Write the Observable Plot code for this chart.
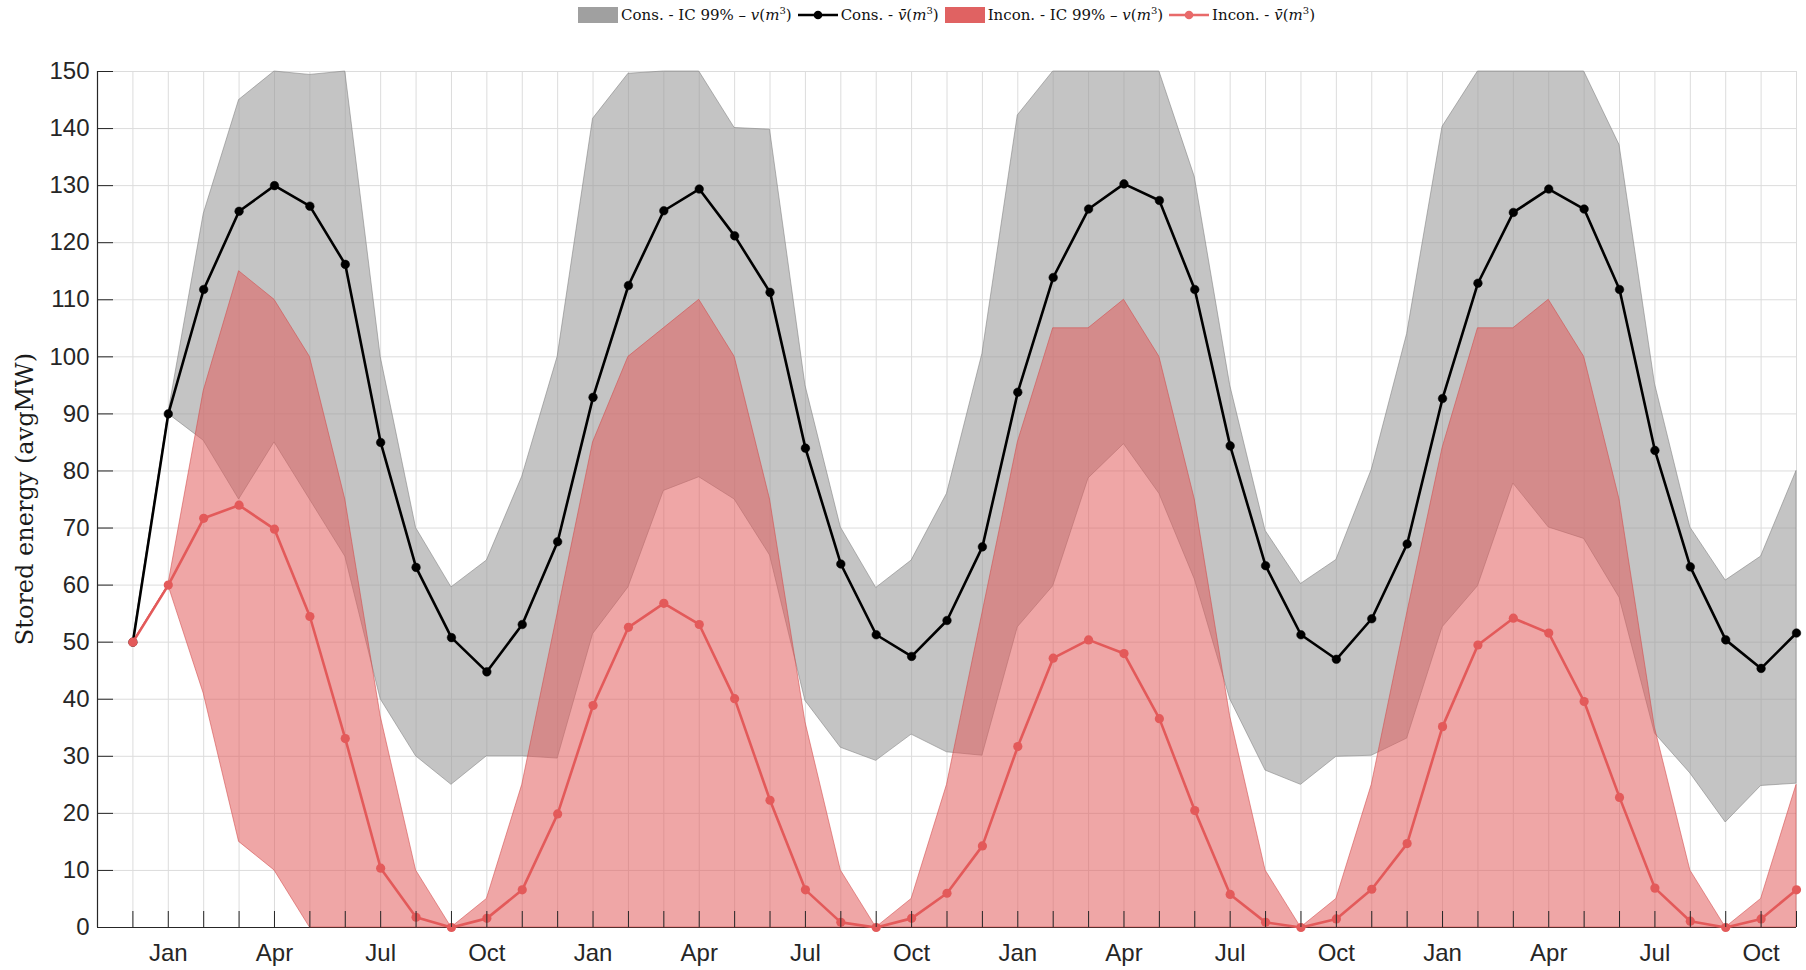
<!DOCTYPE html>
<html>
<head>
<meta charset="utf-8">
<script src="https://cdn.jsdelivr.net/npm/d3@7"></script>
<script src="https://cdn.jsdelivr.net/npm/@observablehq/plot@0.6"></script>
<style>
  html, body { margin: 0; padding: 0; background: #fff; }
  #wrap { position: relative; width: 1806px; height: 970px; overflow: hidden; }
  #legend {
    position: absolute; top: 0; left: 97px; width: 1699px; height: 30px;
    display: flex; justify-content: center; align-items: center;
    font-family: "DejaVu Serif", "Liberation Serif", serif; font-size: 15px; color: #111;
  }
  .item { display: flex; align-items: center; margin: 0 3px; white-space: nowrap; }
  .sw { width: 40px; height: 16px; margin-right: 3px; }
  .ln { width: 40px; height: 16px; margin-right: 3px; }
  #chart { position: absolute; top: 30px; left: 0; }
</style>
</head>
<body>
<div id="wrap">
  <div id="legend"></div>
  <div id="chart"></div>
</div>
<script>
// ---- data (x index 0 = Dec of year 0, then monthly for 48 months) ----
const monthCycle = ["Jan","Feb","Mar","Apr","May","Jun","Jul","Aug","Sep","Oct","Nov","Dec"];
const labelledMonths = ["Jan","Apr","Jul","Oct"];
const yTicks = [0,10,20,30,40,50,60,70,80,90,100,110,120,130,140,150];

const consMean = [50, 90, 111.8, 125.5, 130, 126.4, 116.2, 85.0, 63.1, 50.8, 44.8, 53.1,
                  67.6, 92.9, 112.5, 125.6, 129.4, 121.2, 111.3, 84.0, 63.7, 51.3, 47.5, 53.8,
                  66.7, 93.8, 113.9, 125.9, 130.3, 127.4, 111.8, 84.4, 63.4, 51.3, 47.0, 54.1,
                  67.2, 92.7, 112.9, 125.3, 129.4, 125.9, 111.8, 83.6, 63.2, 50.4, 45.4, 51.6];
const consHi   = [50, 90, 125, 145, 150, 149.4, 150, 100, 70, 59.6, 64.3, 79,
                  100, 141.7, 149.6, 150, 150, 140.1, 139.8, 95, 70.1, 59.5, 64.3, 76,
                  100.5, 142.3, 150, 150, 150, 150, 131.5, 95, 69.5, 60.2, 64.4, 80.2,
                  104, 140.3, 150, 150, 150, 150, 137.1, 95.3, 70.1, 60.8, 65, 80];
const consLo   = [50, 90, 85.3, 75, 85, 75, 65, 40, 30, 25, 30, 30,
                  29.6, 51.4, 59.6, 76.5, 78.9, 75, 65.2, 39.7, 31.5, 29.2, 33.8, 30.7,
                  30.1, 52.6, 59.8, 78.7, 84.7, 76, 61, 40, 27.5, 25, 29.9, 30.1,
                  33.1, 52.6, 59.8, 77.8, 70.1, 68.1, 57.8, 34, 27, 18.4, 24.8, 25.2];
const inconMean = [50, 60, 71.7, 74.0, 69.8, 54.5, 33.1, 10.4, 1.8, 0, 1.6, 6.6,
                   19.9, 38.9, 52.6, 56.8, 53.1, 40.1, 22.3, 6.6, 0.9, 0, 1.6, 6.0,
                   14.3, 31.7, 47.2, 50.4, 48.0, 36.6, 20.5, 5.8, 0.9, 0, 1.5, 6.7,
                   14.7, 35.2, 49.5, 54.2, 51.6, 39.6, 22.8, 6.9, 1.1, 0, 1.5, 6.6];
const inconHi  = [50, 60, 94, 115, 110, 100, 75, 37, 10, 0, 5, 25,
                  55, 85, 100, 105, 110, 100, 75, 36, 10, 0, 5, 25,
                  55, 85, 105, 105, 110, 100, 75, 37, 10, 0, 5, 25,
                  55, 84, 105, 105, 110, 100, 75, 35, 10, 0, 5, 25];
const inconLo  = [50, 60, 41, 15, 10, 0, 0, 0, 0, 0, 0, 0,
                  0, 0, 0, 0, 0, 0, 0, 0, 0, 0, 0, 0,
                  0, 0, 0, 0, 0, 0, 0, 0, 0, 0, 0, 0,
                  0, 0, 0, 0, 0, 0, 0, 0, 0, 0, 0, 0];

const monthOf = i => monthCycle[(i + 11) % 12];
const rows = consMean.map((v, i) => ({
  i, month: monthOf(i),
  consMean: v, consHi: consHi[i], consLo: consLo[i],
  inconMean: inconMean[i], inconHi: inconHi[i], inconLo: inconLo[i]
}));
const allIdx = rows.map(d => d.i);
const labelIdx = rows.filter(d => labelledMonths.includes(d.month)).map(d => d.i);

const GREY = "#999999", RED = "#e25c5c", REDLINE = "#e35a5a", AXIS = "#262626", GRID = "#dcdcdc";

const chart = Plot.plot({
  width: 1806,
  height: 940,
  marginTop: 41,
  marginBottom: 43,
  marginLeft: 97,
  marginRight: 10,
  x: {type: "linear", domain: [-1, 47], label: null},
  y: {domain: [0, 150], label: null},
  style: {fontFamily: "'Liberation Sans', Arial, sans-serif", fontSize: "24px", color: AXIS, background: "white"},
  marks: [
    Plot.ruleY(yTicks, {y: d => d, stroke: GRID, strokeWidth: 1}),
    Plot.ruleX(allIdx, {x: d => d, stroke: GRID, strokeWidth: 1}),
    Plot.ruleX([-1], {x: d => d, stroke: AXIS, strokeWidth: 1.2}),
    Plot.ruleY([0], {y: d => d, stroke: AXIS, strokeWidth: 1.2}),
    Plot.areaY(rows, {x: "i", y1: "consLo", y2: "consHi", fill: GREY, fillOpacity: 0.58,
                      stroke: "#808080", strokeOpacity: 0.7, strokeWidth: 0.8}),
    Plot.areaY(rows, {x: "i", y1: "inconLo", y2: "inconHi", fill: RED, fillOpacity: 0.55,
                      stroke: "#d24a4a", strokeOpacity: 0.7, strokeWidth: 0.8}),
    Plot.line(rows, {x: "i", y: "consMean", stroke: "#000", strokeWidth: 2.6}),
    Plot.dot(rows, {x: "i", y: "consMean", r: 4.3, fill: "#000", stroke: "#000", strokeWidth: 0.5}),
    Plot.line(rows, {x: "i", y: "inconMean", stroke: REDLINE, strokeWidth: 2.6}),
    Plot.dot(rows, {x: "i", y: "inconMean", r: 4.6, fill: REDLINE}),
    Plot.axisY({ticks: yTicks, tickSize: 0, tickPadding: 8, label: null, fontSize: 24}),
    Plot.axisY({ticks: yTicks, tickSize: -16, tickFormat: () => "", label: null, stroke: AXIS}),
    Plot.axisX({ticks: labelIdx, tickSize: 0, tickPadding: 16, label: null, fontSize: 24,
                tickFormat: i => monthOf(i)}),
    Plot.axisX({ticks: allIdx, tickSize: -16, tickFormat: () => "", label: null, stroke: AXIS})
  ]
});
document.getElementById("chart").appendChild(chart);

// y-axis title
d3.select(chart).append("text")
  .attr("transform", "translate(25,469) rotate(-90)")
  .attr("text-anchor", "middle")
  .attr("dominant-baseline", "central")
  .style("font-family", "'DejaVu Serif', 'Liberation Serif', serif")
  .style("font-size", "24px")
  .attr("fill", "#1a1a1a")
  .text("Stored energy (avgMW)");

// legend
const legendItems = [
  {kind: "patch", color: "#a0a0a0", html: "Cons. - IC 99% – <i>v</i>(<i>m</i><sup>3</sup>)"},
  {kind: "line", color: "#000000", html: "Cons. - <i>v\u0304</i>(<i>m</i><sup>3</sup>)"},
  {kind: "patch", color: "#e06262", html: "Incon. - IC 99% – <i>v</i>(<i>m</i><sup>3</sup>)"},
  {kind: "line", color: "#e86a6a", html: "Incon. - <i>v\u0304</i>(<i>m</i><sup>3</sup>)"}
];
const leg = d3.select("#legend");
legendItems.forEach(it => {
  const item = leg.append("div").attr("class", "item");
  if (it.kind === "patch") {
    item.append("div").attr("class", "sw").style("background", it.color);
  } else {
    const s = item.append("svg").attr("class", "ln").attr("width", 40).attr("height", 16);
    s.append("line").attr("x1", 0).attr("x2", 40).attr("y1", 8).attr("y2", 8)
      .attr("stroke", it.color).attr("stroke-width", 2.6);
    s.append("circle").attr("cx", 20).attr("cy", 8).attr("r", 4.3).attr("fill", it.color);
  }
  item.append("span").html(it.html);
});
d3.selectAll("#legend sup").style("font-size", "10px").style("vertical-align", "6px").style("line-height", "0");
</script>
</body>
</html>
